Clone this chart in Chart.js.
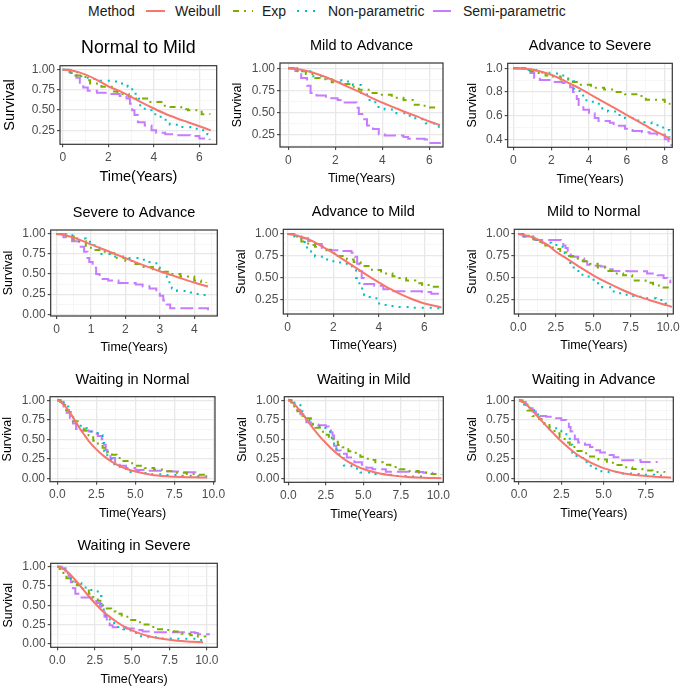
<!DOCTYPE html>
<html><head><meta charset="utf-8">
<script src="https://cdn.jsdelivr.net/npm/chart.js@4.4.1/dist/chart.umd.min.js"></script>
<style>
html,body{margin:0;padding:0;background:#fff;}
body{width:685px;height:689px;position:relative;overflow:hidden;font-family:'Liberation Sans',Arial,sans-serif;}
canvas{position:absolute;}
#legend span{position:absolute;top:3px;font-size:14px;line-height:16px;color:#1a1a1a;white-space:nowrap;}
#legend svg{position:absolute;top:5px;}
</style></head>
<body>
<div id="legend">
  <span style="left:88px">Method</span>
  <svg style="left:145px" width="21" height="12"><line x1="1" y1="6" x2="20" y2="6" stroke="#F8766D" stroke-width="2"/></svg>
  <span style="left:175px">Weibull</span>
  <svg style="left:232px" width="22" height="12"><line x1="1" y1="6" x2="21" y2="6" stroke="#7CAE00" stroke-width="2" stroke-dasharray="6,5,2,6"/></svg>
  <span style="left:262px">Exp</span>
  <svg style="left:296px" width="22" height="12"><line x1="1" y1="6" x2="21" y2="6" stroke="#00BFC4" stroke-width="2" stroke-dasharray="2,6"/></svg>
  <span style="left:328px">Non-parametric</span>
  <svg style="left:432px" width="20" height="12"><line x1="1" y1="6" x2="19" y2="6" stroke="#C77CFF" stroke-width="2"/></svg>
  <span style="left:463px">Semi-parametric</span>
</div>
<script>
// ---------------- DATA ----------------
const panelTitles = ["Normal to Mild","Mild to Advance","Advance to Severe","Severe to Advance","Advance to Mild","Mild to Normal","Waiting in Normal","Waiting in Mild","Waiting in Advance","Waiting in Severe"];
const methods = ["Weibull","Exp","Non-parametric","Semi-parametric"];
const xLabel = "Time(Years)";
const yLabel = "Survival";

// tick labels per panel
const xTicks = [[0,2,4,6],[0,2,4,6],[0,2,4,6,8],[0,1,2,3,4],[0,2,4,6],[0,2.5,5,7.5,10],[0,2.5,5,7.5,10],[0,2.5,5,7.5,10],[0,2.5,5,7.5],[0,2.5,5,7.5,10]];
const yTicks = [[0.25,0.5,0.75,1],[0.25,0.5,0.75,1],[0.4,0.6,0.8,1.0],[0,0.25,0.5,0.75,1],[0.25,0.5,0.75,1],[0.25,0.5,0.75,1],[0,0.25,0.5,0.75,1],[0,0.25,0.5,0.75,1],[0,0.25,0.5,0.75,1],[0,0.25,0.5,0.75,1]];
const xDecimals = [0,0,0,0,0,1,1,1,1,1];
const yDecimals = [2,2,1,2,2,2,2,2,2,2];
const xRanges = [[-0.12,6.76],[-0.35,6.58],[-0.3,8.4],[-0.17,4.67],[-0.19,6.83],[-0.27,10.35],[-0.47,10.1],[-0.27,10.33],[-0.28,9.13],[-0.45,10.7]];
const yRanges = [[0.077,1.05],[0.105,1.06],[0.333,1.042],[-0.022,1.05],[0.09,1.053],[0.09,1.053],[-0.045,1.045],[-0.045,1.045],[-0.045,1.045],[-0.045,1.045]];

// series: [time, survival]
const normalToMild_weibull = [[0,1],[0.5,0.985],[1,0.94],[1.5,0.875],[2,0.795],[2.5,0.735],[3,0.665],[3.5,0.59],[4,0.52],[4.5,0.455],[5,0.4],[5.5,0.35],[6,0.3],[6.5,0.25]];
const normalToMild_exp = [[0,1],[0.3,0.96],[0.55,0.93],[1.0,0.87],[1.2,0.83],[1.7,0.79],[2.2,0.73],[2.4,0.70],[2.9,0.67],[3.2,0.645],[3.8,0.60],[4.4,0.555],[4.65,0.54],[5.2,0.51],[5.5,0.50],[6.1,0.45],[6.45,0.445]];
const normalToMild_np = [[0,1],[0.3,0.97],[0.7,0.92],[1.1,0.885],[1.5,0.865],[2.1,0.855],[2.6,0.83],[2.85,0.79],[3.05,0.72],[3.2,0.64],[3.35,0.56],[3.6,0.50],[3.9,0.45],[4.3,0.38],[4.7,0.32],[5.1,0.29],[5.6,0.27],[6.1,0.25],[6.35,0.2],[6.45,0.17]];
const normalToMild_semi = [[0,1],[0.35,0.96],[0.6,0.9],[0.75,0.84],[0.9,0.78],[1.1,0.74],[1.5,0.715],[2.0,0.70],[2.5,0.675],[2.8,0.645],[2.95,0.58],[3.05,0.5],[3.15,0.44],[3.3,0.35],[3.6,0.31],[3.9,0.25],[4.1,0.22],[4.5,0.20],[4.9,0.19],[5.6,0.18],[6.0,0.15],[6.45,0.13]];

const mildToAdvance_weibull = [[0,1],[0.5,0.985],[1,0.955],[1.5,0.91],[2,0.855],[2.5,0.795],[3,0.735],[3.5,0.67],[4,0.61],[4.5,0.555],[5,0.5],[5.5,0.45],[6,0.395],[6.45,0.355]];
const mildToAdvance_exp = [[0,1],[0.4,0.965],[0.75,0.935],[1.15,0.89],[1.5,0.875],[1.85,0.84],[2.3,0.82],[2.6,0.79],[3.0,0.755],[3.5,0.72],[3.9,0.70],[4.4,0.665],[4.9,0.64],[5.3,0.585],[5.8,0.555],[6.3,0.545]];
const mildToAdvance_np = [[0,1],[0.5,0.965],[1.0,0.91],[1.4,0.885],[1.9,0.865],[2.4,0.85],[2.75,0.81],[3.1,0.72],[3.35,0.64],[3.7,0.56],[4.1,0.53],[4.6,0.49],[5.0,0.46],[5.4,0.42],[5.85,0.375],[6.2,0.34],[6.4,0.32]];
const mildToAdvance_semi = [[0,1],[0.3,0.97],[0.55,0.89],[0.8,0.8],[0.95,0.72],[1.2,0.69],[1.6,0.66],[2.1,0.64],[2.4,0.61],[2.9,0.55],[3.0,0.48],[3.15,0.42],[3.35,0.35],[3.6,0.31],[3.85,0.25],[4.1,0.235],[4.9,0.22],[5.1,0.20],[5.8,0.19],[5.95,0.15],[6.45,0.14]];

const advanceToSevere_weibull = [[0,1],[0.5,0.997],[1,0.99],[1.5,0.97],[2,0.945],[2.5,0.91],[3,0.87],[3.5,0.83],[4,0.785],[4.5,0.74],[5,0.695],[5.5,0.65],[6,0.605],[6.5,0.56],[7,0.515],[7.5,0.47],[8,0.43],[8.3,0.405]];
const advanceToSevere_exp = [[0,1],[0.9,0.975],[1.2,0.96],[1.7,0.94],[2.1,0.93],[2.5,0.905],[3.0,0.885],[3.5,0.86],[4.1,0.835],[4.8,0.82],[5.3,0.80],[5.9,0.78],[6.5,0.765],[7.0,0.735],[8.0,0.70],[8.3,0.70]];
const advanceToSevere_np = [[0,1],[0.5,0.985],[1.2,0.965],[1.9,0.955],[2.5,0.94],[2.9,0.89],[3.2,0.82],[3.5,0.77],[3.8,0.73],[4.2,0.70],[4.7,0.66],[5.0,0.635],[5.5,0.605],[5.9,0.58],[6.4,0.56],[6.8,0.545],[7.3,0.52],[7.8,0.50],[8.05,0.48],[8.25,0.42]];
const advanceToSevere_semi = [[0,1],[0.6,0.985],[0.9,0.96],[1.1,0.92],[1.4,0.90],[2.0,0.885],[2.6,0.875],[3.0,0.84],[3.15,0.80],[3.35,0.74],[3.45,0.68],[3.7,0.65],[4.0,0.62],[4.3,0.58],[4.5,0.555],[5.1,0.54],[5.3,0.515],[5.9,0.49],[6.3,0.47],[6.8,0.46],[7.2,0.45],[7.6,0.44],[8.0,0.40],[8.2,0.37],[8.35,0.345]];

const severeToAdvance_weibull = [[0,1],[0.25,0.985],[0.5,0.955],[0.75,0.915],[1,0.87],[1.5,0.785],[2,0.70],[2.5,0.615],[3,0.535],[3.5,0.465],[4,0.395],[4.4,0.345]];
const severeToAdvance_exp = [[0,1],[0.3,0.97],[0.5,0.91],[0.85,0.83],[1.1,0.80],[1.4,0.76],[1.75,0.70],[2.0,0.665],[2.2,0.625],[2.5,0.59],[2.8,0.56],[3.1,0.53],[3.3,0.50],[3.6,0.47],[4.0,0.42],[4.2,0.40],[4.35,0.39]];
const severeToAdvance_np = [[0,1],[0.3,0.985],[0.55,0.945],[0.85,0.905],[1.1,0.83],[1.25,0.75],[1.6,0.72],[2.1,0.70],[2.4,0.68],[2.6,0.65],[2.9,0.62],[3.0,0.56],[3.1,0.47],[3.2,0.40],[3.35,0.32],[3.5,0.29],[3.9,0.27],[4.1,0.24],[4.35,0.22]];
const severeToAdvance_semi = [[0,1],[0.2,0.96],[0.45,0.91],[0.65,0.84],[0.8,0.78],[0.9,0.70],[0.95,0.65],[1.05,0.58],[1.15,0.50],[1.25,0.44],[1.5,0.42],[1.8,0.39],[2.3,0.37],[2.5,0.35],[2.7,0.32],[2.9,0.28],[3.0,0.23],[3.1,0.17],[3.2,0.12],[3.3,0.075],[4.35,0.075],[4.4,0.05]];

const advanceToMild_weibull = [[0,1],[0.5,0.975],[1,0.93],[1.5,0.86],[2,0.785],[2.5,0.70],[3,0.615],[3.5,0.53],[4,0.45],[4.5,0.375],[5,0.31],[5.5,0.255],[6,0.21],[6.5,0.18],[6.75,0.165]];
const advanceToMild_exp = [[0,1],[0.3,0.97],[0.6,0.915],[0.9,0.875],[1.2,0.855],[1.6,0.82],[1.9,0.78],[2.2,0.75],[2.6,0.71],[2.9,0.68],[3.2,0.635],[3.7,0.59],[4.1,0.55],[4.6,0.52],[4.9,0.50],[5.2,0.47],[5.6,0.44],[5.9,0.42],[6.3,0.40],[6.7,0.38]];
const advanceToMild_np = [[0,1],[0.3,0.97],[0.6,0.91],[0.85,0.80],[1.2,0.745],[1.5,0.71],[1.9,0.69],[2.3,0.66],[2.6,0.63],[2.85,0.59],[3.0,0.50],[3.15,0.38],[3.35,0.31],[3.6,0.27],[3.95,0.21],[4.3,0.18],[4.8,0.17],[5.4,0.16],[6.5,0.155],[6.7,0.155]];
const advanceToMild_semi = [[0,1],[0.3,0.98],[0.6,0.95],[0.9,0.92],[1.2,0.885],[1.5,0.84],[1.7,0.815],[2.4,0.805],[2.8,0.785],[2.95,0.74],[3.05,0.66],[3.15,0.58],[3.25,0.50],[3.35,0.43],[3.8,0.41],[4.2,0.37],[4.5,0.35],[5.9,0.34],[6.3,0.32],[6.6,0.29],[6.7,0.28]];

const mildToNormal_weibull = [[0,1],[1,0.96],[2,0.87],[2.5,0.80],[3,0.745],[4,0.635],[5,0.53],[6,0.44],[7,0.36],[8,0.29],[9,0.235],[10,0.185],[10.25,0.17]];
const mildToNormal_exp = [[0,1],[0.5,0.98],[1.0,0.94],[1.4,0.91],[1.8,0.87],[2.3,0.83],[2.8,0.79],[3.3,0.75],[3.8,0.72],[4.3,0.69],[4.8,0.66],[5.3,0.62],[5.8,0.58],[6.4,0.55],[7.0,0.53],[7.6,0.47],[8.5,0.445],[9.0,0.415],[9.6,0.39],[10.2,0.37]];
const mildToNormal_np = [[0,1],[0.4,0.97],[1.0,0.93],[1.6,0.90],[2.2,0.875],[2.7,0.855],[3.1,0.78],[3.4,0.67],[3.7,0.58],[4.2,0.535],[4.7,0.48],[5.1,0.44],[5.6,0.395],[6.2,0.345],[6.8,0.31],[7.4,0.295],[8.0,0.285],[8.6,0.27],[9.2,0.25],[9.8,0.21],[10.1,0.18]];
const mildToNormal_semi = [[0,1],[0.3,0.97],[0.7,0.95],[1.1,0.93],[2.6,0.93],[2.85,0.90],[3.0,0.87],[3.15,0.84],[3.3,0.80],[3.5,0.74],[4.0,0.72],[4.4,0.69],[4.6,0.65],[5.0,0.64],[5.5,0.63],[5.8,0.60],[6.3,0.58],[7.3,0.575],[8.6,0.55],[9.3,0.53],[9.7,0.50],[9.95,0.47],[10.15,0.44]];

const waitNormal_weibull = [[0,1],[0.25,0.97],[0.5,0.92],[0.75,0.86],[1.0,0.78],[1.25,0.70],[1.5,0.62],[1.75,0.55],[2.0,0.48],[2.5,0.37],[3.0,0.28],[3.5,0.21],[4.0,0.155],[4.5,0.115],[5.0,0.085],[6.0,0.045],[7.0,0.025],[8.0,0.015],[9.0,0.01],[9.6,0.008]];
const waitNormal_exp = [[0,1],[0.2,0.94],[0.5,0.87],[0.75,0.80],[1.0,0.73],[1.3,0.66],[1.7,0.61],[2.0,0.55],[2.3,0.48],[2.6,0.43],[2.9,0.39],[3.2,0.34],[3.5,0.30],[3.8,0.26],[4.1,0.22],[4.5,0.19],[5.0,0.16],[5.6,0.13],[6.2,0.11],[6.8,0.09],[7.5,0.07],[8.3,0.055],[9.0,0.045],[9.6,0.04]];
const waitNormal_np = [[0,1],[0.4,0.92],[0.7,0.85],[0.95,0.78],[1.2,0.70],[1.5,0.64],[1.9,0.60],[2.3,0.58],[2.7,0.55],[2.9,0.45],[3.0,0.35],[3.2,0.24],[3.5,0.18],[4.0,0.12],[4.4,0.08],[5.2,0.065],[6.0,0.05],[7.0,0.04],[8.0,0.03],[9.0,0.025],[9.6,0.025]];
const waitNormal_semi = [[0,1],[0.2,0.98],[0.4,0.92],[0.6,0.84],[0.8,0.76],[1.0,0.70],[1.2,0.63],[1.4,0.61],[2.0,0.60],[2.3,0.57],[2.6,0.54],[2.85,0.50],[3.0,0.43],[3.1,0.36],[3.2,0.32],[3.4,0.26],[3.7,0.20],[4.0,0.16],[4.4,0.13],[5.0,0.105],[5.8,0.095],[6.7,0.088],[7.4,0.085],[8.0,0.077],[8.9,0.077]];

const waitMild_weibull = [[0,1],[0.25,0.975],[0.5,0.93],[0.75,0.87],[1.0,0.81],[1.5,0.68],[2.0,0.56],[2.5,0.455],[3.0,0.36],[3.5,0.28],[4.0,0.215],[4.5,0.165],[5.0,0.125],[6.0,0.07],[7.0,0.04],[8.0,0.022],[9.0,0.013],[10.2,0.007]];
const waitMild_exp = [[0,1],[0.2,0.96],[0.4,0.92],[0.6,0.86],[0.8,0.80],[1.2,0.77],[1.5,0.70],[1.8,0.65],[2.1,0.60],[2.4,0.56],[2.7,0.52],[3.0,0.47],[3.3,0.43],[3.6,0.40],[4.0,0.35],[4.4,0.33],[4.8,0.28],[5.3,0.24],[5.8,0.21],[6.3,0.18],[6.8,0.15],[7.4,0.12],[8.0,0.10],[8.7,0.08],[9.4,0.06],[10.2,0.05]];
const waitMild_np = [[0,1],[0.4,0.94],[0.8,0.86],[1.1,0.75],[1.4,0.69],[1.8,0.67],[2.3,0.645],[2.7,0.60],[2.9,0.52],[3.05,0.44],[3.2,0.34],[3.4,0.26],[3.7,0.17],[4.2,0.13],[4.8,0.08],[5.5,0.06],[6.5,0.05],[7.2,0.035],[8.2,0.028],[9.0,0.026]];
const waitMild_semi = [[0,1],[0.2,0.97],[0.4,0.93],[0.6,0.88],[0.8,0.82],[1.0,0.77],[1.2,0.72],[1.5,0.69],[2.0,0.68],[2.5,0.665],[2.7,0.635],[2.85,0.59],[2.95,0.55],[3.05,0.42],[3.2,0.36],[3.5,0.32],[3.9,0.27],[4.4,0.21],[4.9,0.18],[5.2,0.14],[5.6,0.12],[6.5,0.09],[8.5,0.085],[9.0,0.078],[9.6,0.07]];

const waitAdvance_weibull = [[0,1],[0.25,0.98],[0.5,0.935],[0.75,0.88],[1.0,0.82],[1.5,0.70],[2.0,0.585],[2.5,0.475],[3.0,0.38],[3.5,0.295],[4.0,0.23],[4.5,0.175],[5.0,0.13],[6.0,0.07],[7.0,0.037],[8.0,0.02],[9.0,0.01]];
const waitAdvance_exp = [[0,1],[0.2,0.95],[0.5,0.87],[0.8,0.80],[1.2,0.76],[1.5,0.70],[1.8,0.63],[2.1,0.58],[2.4,0.52],[2.7,0.46],[3.0,0.40],[3.4,0.35],[3.8,0.32],[4.2,0.28],[4.7,0.24],[5.2,0.20],[5.7,0.17],[6.2,0.14],[6.7,0.12],[7.3,0.10],[7.9,0.08],[8.6,0.07]];
const waitAdvance_np = [[0,1],[0.3,0.95],[0.6,0.89],[0.9,0.82],[1.2,0.76],[1.5,0.70],[1.8,0.655],[2.2,0.61],[2.5,0.58],[2.8,0.52],[3.0,0.43],[3.15,0.33],[3.4,0.26],[3.8,0.21],[4.1,0.16],[4.4,0.125],[4.8,0.09],[5.3,0.08],[6.0,0.06],[6.8,0.055],[7.3,0.045],[8.0,0.035],[8.5,0.035]];
const waitAdvance_semi = [[0,1],[0.2,0.98],[0.4,0.94],[0.6,0.90],[0.8,0.86],[1.0,0.82],[1.2,0.80],[1.6,0.79],[2.0,0.77],[2.5,0.75],[2.8,0.72],[2.95,0.66],[3.05,0.60],[3.15,0.55],[3.3,0.50],[3.5,0.46],[3.9,0.43],[4.2,0.40],[4.5,0.36],[4.8,0.33],[5.2,0.30],[5.6,0.27],[6.1,0.23],[7.2,0.21],[8.2,0.21]];

const waitSevere_weibull = [[0,1],[0.25,0.985],[0.5,0.96],[0.75,0.92],[1.0,0.87],[1.5,0.76],[2.0,0.64],[2.5,0.53],[3.0,0.43],[3.5,0.35],[4.0,0.28],[4.5,0.22],[5.0,0.175],[6.0,0.105],[7.0,0.065],[8.0,0.04],[9.0,0.028],[9.75,0.02]];
const waitSevere_exp = [[0,1],[0.15,0.97],[0.4,0.92],[0.6,0.85],[0.9,0.81],[1.3,0.76],[1.7,0.71],[2.1,0.65],[2.4,0.60],[2.7,0.56],[3.0,0.50],[3.3,0.46],[3.6,0.42],[3.9,0.39],[4.3,0.35],[4.8,0.31],[5.3,0.28],[5.7,0.25],[6.1,0.22],[6.6,0.19],[7.2,0.18],[7.8,0.16],[8.3,0.13],[8.9,0.11],[9.4,0.095],[9.9,0.085]];
const waitSevere_np = [[0,1],[0.4,0.97],[0.7,0.92],[0.9,0.84],[1.2,0.79],[1.6,0.73],[2.1,0.70],[2.6,0.68],[2.8,0.62],[2.95,0.52],[3.1,0.42],[3.25,0.34],[3.5,0.27],[3.9,0.22],[4.4,0.19],[4.9,0.14],[5.5,0.10],[6.1,0.085],[6.7,0.07],[8.0,0.065],[9.3,0.05],[10.0,0.05]];
const waitSevere_semi = [[0,1],[0.3,0.98],[0.55,0.94],[0.75,0.88],[0.9,0.80],[1.05,0.72],[1.2,0.65],[1.4,0.60],[2.3,0.58],[2.6,0.53],[2.85,0.48],[3.0,0.42],[3.15,0.35],[3.3,0.29],[3.5,0.24],[3.7,0.215],[4.6,0.20],[5.2,0.18],[5.7,0.16],[6.2,0.15],[9.2,0.14],[9.4,0.125],[10.2,0.125]];

const panelSeries = [
  [normalToMild_weibull, normalToMild_exp, normalToMild_np, normalToMild_semi],
  [mildToAdvance_weibull, mildToAdvance_exp, mildToAdvance_np, mildToAdvance_semi],
  [advanceToSevere_weibull, advanceToSevere_exp, advanceToSevere_np, advanceToSevere_semi],
  [severeToAdvance_weibull, severeToAdvance_exp, severeToAdvance_np, severeToAdvance_semi],
  [advanceToMild_weibull, advanceToMild_exp, advanceToMild_np, advanceToMild_semi],
  [mildToNormal_weibull, mildToNormal_exp, mildToNormal_np, mildToNormal_semi],
  [waitNormal_weibull, waitNormal_exp, waitNormal_np, waitNormal_semi],
  [waitMild_weibull, waitMild_exp, waitMild_np, waitMild_semi],
  [waitAdvance_weibull, waitAdvance_exp, waitAdvance_np, waitAdvance_semi],
  [waitSevere_weibull, waitSevere_exp, waitSevere_np, waitSevere_semi]
];

// ---------------- LAYOUT & STYLE ----------------
// plot-area boxes (page px)
const boxes = [
  {L:60, T:65.7, R:216.7, B:144.3},
  {L:280, T:63, R:443, B:147},
  {L:507.7, T:63.3, R:672.3, B:147.3},
  {L:50.7, T:230, R:217.3, B:316},
  {L:283.3, T:229.3, R:443.3, B:314},
  {L:514.3, T:229.3, R:673.3, B:314},
  {L:50, T:396.7, R:215, B:481.7},
  {L:284.3, T:396.7, R:443.3, B:482.3},
  {L:514.3, T:397, R:673.3, B:481.7},
  {L:50.7, T:563.3, R:217.3, B:647.3}
];
const FONT = "'Liberation Sans', Arial, sans-serif";
const seriesStyle = [
  {color:'#F8766D', dash:[], stepped:false},
  {color:'#7CAE00', dash:[6,5,2,5], stepped:true},
  {color:'#00BFC4', dash:[2,6], stepped:true},
  {color:'#C77CFF', dash:[13,5], stepped:true}
];

const framePlugin = {
  id:'frame',
  afterDatasetsDraw(chart){
    const {ctx, chartArea:a} = chart;
    ctx.save();
    ctx.strokeStyle = '#333333';
    ctx.lineWidth = 1.2;
    ctx.strokeRect(a.left, a.top, a.right - a.left, a.bottom - a.top);
    ctx.restore();
  }
};

function withMinors(major, min, max){
  const step = major[1] - major[0];
  const out = major.slice();
  for (let v = major[0] - step/2; v <= max + 1e-9; v += step){
    if (v >= min - 1e-9) out.push(+v.toFixed(6));
  }
  return out.sort((a,b)=>a-b);
}

function makePanel(i){
  const g = boxes[i];
  const big = i === 0;
  const titleSize = big ? 17.8 : 14.5;
  const axisSize = big ? 14.5 : 12.5;
  const tickSize = 12;
  const yOff = big ? 50 : (i === 2 ? 35 : 42);
  const xOff = big ? 32.4 : 32;

  const cTop = Math.floor(g.T - 31);
  const TH = g.T - cTop;
  const tlh = titleSize * 1.2;
  const tpb = 17.2 - tlh/2;
  const tpt = TH - tlh - tpb;

  const alh = axisSize * 1.2;
  const exactLeft = g.L - yOff - alh/2;
  const cLeft = Math.floor(exactLeft);
  const YW = g.L - cLeft;
  const ytp = exactLeft - cLeft;

  const exactBottom = g.B + xOff + alh/2;
  const cBottom = Math.ceil(exactBottom);
  const xtpb = cBottom - exactBottom;
  const H = cBottom - cTop;
  const XH = cBottom - g.B;
  const W = Math.ceil(g.R + 16) - cLeft;
  const RP = W - (g.R - cLeft);

  const cv = document.createElement('canvas');
  cv.width = W; cv.height = H;
  cv.style.left = cLeft + 'px'; cv.style.top = cTop + 'px';
  cv.style.width = W + 'px'; cv.style.height = H + 'px';
  document.body.appendChild(cv);

  const xr = xRanges[i], yr = yRanges[i];
  const xMaj = xTicks[i], yMaj = yTicks[i];
  const xAll = withMinors(xMaj, xr[0], xr[1]);
  const yAll = withMinors(yMaj, yr[0], yr[1]);
  const isMaj = (arr, v) => arr.some(m => Math.abs(m - v) < 1e-6);

  const gridFor = (arr) => ({
    display:true, drawOnChartArea:true, drawTicks:true, tickLength:3,
    color: c => (c.tick && isMaj(arr, c.tick.value)) ? '#E8E8E8' : '#F2F2F2',
    lineWidth: c => (c.tick && isMaj(arr, c.tick.value)) ? 1.3 : 0.7,
    tickColor: c => (c.tick && isMaj(arr, c.tick.value)) ? '#333333' : 'rgba(0,0,0,0)',
    tickWidth: 1
  });

  const datasets = panelSeries[i].map((pts, k) => ({
    label: methods[k],
    data: pts.map(p => ({x:p[0], y:p[1]})),
    borderColor: seriesStyle[k].color,
    backgroundColor: seriesStyle[k].color,
    borderWidth: 2,
    borderDash: seriesStyle[k].dash,
    borderCapStyle: 'butt',
    stepped: seriesStyle[k].stepped,
    cubicInterpolationMode: seriesStyle[k].stepped ? 'default' : 'monotone',
    pointRadius: 0,
    fill: false
  }));

  new Chart(cv, {
    type:'line',
    data:{datasets},
    plugins:[framePlugin],
    options:{
      responsive:false, animation:false, devicePixelRatio:1,
      layout:{padding:{left:0, top:0, right:RP, bottom:0}},
      plugins:{
        legend:{display:false}, tooltip:{enabled:false},
        title:{display:true, text:panelTitles[i], fullSize:false, color:'#000',
          font:{family:FONT, size:titleSize, weight:'normal', lineHeight:1.2},
          padding:{top:tpt, bottom:tpb}}
      },
      scales:{
        x:{type:'linear', min:xr[0], max:xr[1],
          afterBuildTicks: s => { s.ticks = xAll.map(v => ({value:v})); },
          afterFit: s => { s.height = XH; s.paddingLeft = 0; s.paddingRight = 0; },
          ticks:{autoSkip:false, maxRotation:0, minRotation:0, padding:3, color:'#4D4D4D',
            font:{family:FONT, size:tickSize},
            callback: v => isMaj(xMaj, v) ? v.toFixed(xDecimals[i]) : ''},
          grid: gridFor(xMaj), border:{display:false},
          title:{display:true, text:xLabel, color:'#000', font:{family:FONT, size:axisSize, lineHeight:1.2}, padding:{top:0, bottom:xtpb}}
        },
        y:{type:'linear', min:yr[0], max:yr[1],
          afterBuildTicks: s => { s.ticks = yAll.map(v => ({value:v})); },
          afterFit: s => { s.width = YW; s.paddingTop = 0; s.paddingBottom = 0; },
          ticks:{autoSkip:false, padding:2, color:'#4D4D4D',
            font:{family:FONT, size:tickSize},
            callback: v => isMaj(yMaj, v) ? v.toFixed(yDecimals[i]) : ''},
          grid: gridFor(yMaj), border:{display:false},
          title:{display:true, text:yLabel, color:'#000', font:{family:FONT, size:axisSize, lineHeight:1.2}, padding:{top:ytp, bottom:0}}
        }
      }
    }
  });
}

for (let i = 0; i < panelTitles.length; i++) makePanel(i);
</script>
</body></html>
